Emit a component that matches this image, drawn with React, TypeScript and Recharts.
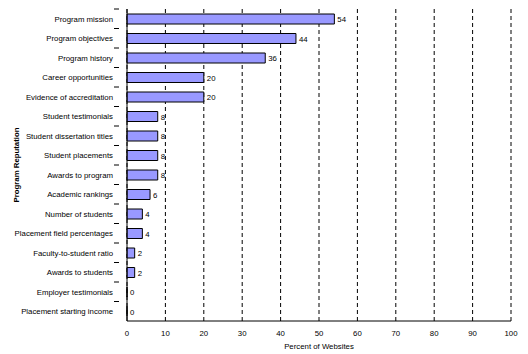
import React from 'react';
import { BarChart, Bar, XAxis, YAxis, CartesianGrid, LabelList } from 'recharts';

const categories = [
  'Program mission',
  'Program objectives',
  'Program history',
  'Career opportunities',
  'Evidence of accreditation',
  'Student testimonials',
  'Student dissertation titles',
  'Student placements',
  'Awards to program',
  'Academic rankings',
  'Number of students',
  'Placement field percentages',
  'Faculty-to-student ratio',
  'Awards to students',
  'Employer testimonials',
  'Placement starting income',
];
const percents = [54, 44, 36, 20, 20, 8, 8, 8, 8, 6, 4, 4, 2, 2, 0, 0];
const xTicks = [0, 10, 20, 30, 40, 50, 60, 70, 80, 90, 100];

const data = categories.map((name, i) => ({ name, value: percents[i] }));

const FONT = '"Liberation Sans", Arial, sans-serif';
const BAND = (321 - 9) / categories.length;

const YTick = (props: any) => {
  const { x, y, payload } = props;
  return (
    <g>
      <line x1={x - 5} x2={x} y1={y - BAND / 2} y2={y - BAND / 2} stroke="#000" />
      <text x={x - 6} y={y} dy={3} textAnchor="end" fontSize={7.8} fontFamily={FONT} fill="#000">
        {payload.value}
      </text>
    </g>
  );
};

const ValueLabel = (props: any) => {
  const { x, y, width, height, value } = props;
  return (
    <text x={x + (width || 0) + 3} y={y + height / 2} dy={3} fontSize={7.8} fontFamily={FONT} fill="#000">
      {value}
    </text>
  );
};

export default function App() {
  return (
    <div style={{ position: 'absolute', left: 0, top: 0, background: '#fff' }}>
      <BarChart
        width={528}
        height={354}
        data={data}
        layout="vertical"
        margin={{ top: 9, right: 17, left: 0, bottom: 0 }}
      >
        <CartesianGrid horizontal={false} vertical stroke="#000" strokeDasharray="4 3" />
        <XAxis
          type="number"
          domain={[0, 100]}
          ticks={xTicks}
          interval={0}
          height={33}
          tickLine={false}
          axisLine={{ stroke: '#000' }}
          tick={{ fontSize: 7.8, fill: '#000', fontFamily: FONT }}
          tickMargin={3}
          label={{ value: 'Percent of Websites', position: 'insideBottom', offset: 5, fontSize: 7.8, fill: '#000', fontFamily: FONT }}
        />
        <YAxis
          type="category"
          dataKey="name"
          width={127}
          interval={0}
          tickLine={false}
          axisLine={{ stroke: '#000' }}
          tick={<YTick />}
          label={{ value: 'Program Reputation', angle: -90, position: 'insideLeft', offset: 16, fontSize: 7.8, fontWeight: 'bold', fill: '#000', fontFamily: FONT, style: { textAnchor: 'middle' } }}
        />
        <Bar
          dataKey="value"
          fill="#9999ff"
          stroke="#000"
          strokeWidth={1}
          barSize={10}
          minPointSize={0.01}
          isAnimationActive={false}
        >
          <LabelList dataKey="value" content={<ValueLabel />} />
        </Bar>
      </BarChart>
    </div>
  );
}
